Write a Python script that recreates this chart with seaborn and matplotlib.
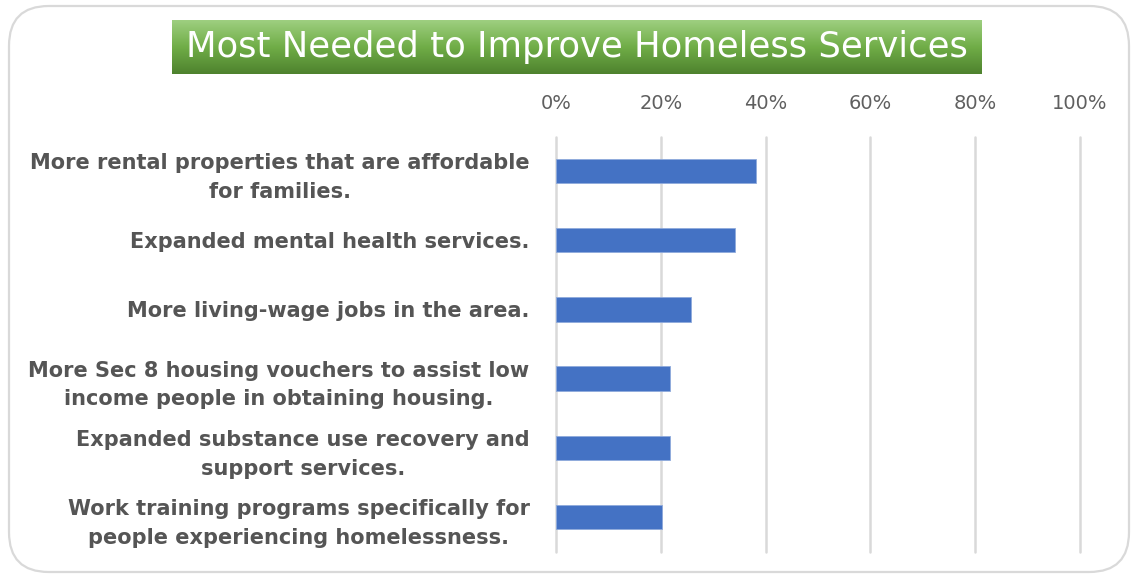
import numpy as np
import pandas as pd
import matplotlib
matplotlib.use("Agg")
import matplotlib.pyplot as plt
from matplotlib.patches import FancyBboxPatch
from matplotlib.ticker import FuncFormatter
import seaborn as sns

# Survey responses (share of respondents)
categories = [
    "More rental properties that are affordable\nfor families.",
    "Expanded mental health services.",
    "More living-wage jobs in the area.",
    "More Sec 8 housing vouchers to assist low\nincome people in obtaining housing.",
    "Expanded substance use recovery and\nsupport services.",
    "Work training programs specifically for\npeople experiencing homelessness.",
]
shares = [38.2, 34.1, 25.8, 21.7, 21.7, 20.3]
x_ticks = [0, 20, 40, 60, 80, 100]
title = "Most Needed to Improve Homeless Services"

df = pd.DataFrame({"need": categories, "share": shares})

sns.set_theme(style="white")
plt.rcParams["font.family"] = ["DejaVu Sans"]

W, H = 1138, 578
fig = plt.figure(figsize=(W / 100, H / 100), dpi=100)
fig.patch.set_facecolor("white")

# Rounded outer frame
frame = FancyBboxPatch((9 / W, 6 / H), (W - 18) / W, (H - 12) / H,
                       boxstyle="round,pad=0,rounding_size=0.035",
                       transform=fig.transFigure, facecolor="none",
                       edgecolor="#d9d9d9", linewidth=1.6, zorder=-5,
                       mutation_aspect=W / H)
fig.patches.append(frame)

ax = fig.add_axes([556 / W, 1 - 551.5 / H, 524 / W, 415 / H])
ax.set_facecolor("none")

sns.barplot(data=df, y="need", x="share", orient="h", width=0.35,
            color="#4472C4", saturation=1, edgecolor="#8faadc",
            linewidth=0.6, ax=ax, zorder=3)

ax.set_xlim(0, 100)
ax.set_ylim(len(categories) - 0.5, -0.5)
ax.set_xticks(x_ticks)
ax.xaxis.set_major_formatter(FuncFormatter(lambda v, p: f"{v:.0f}%"))
ax.xaxis.tick_top()
ax.tick_params(axis="x", length=0, pad=17, labelsize=14, labelcolor="#5f5f5f")
ax.tick_params(axis="y", length=0, pad=19)
for lab in ax.get_yticklabels():
    lab.set_fontsize(15)
    lab.set_fontweight("bold")
    lab.set_color("#555555")
    lab.set_multialignment("center")
    lab.set_linespacing(1.55)
ax.set_xlabel("")
ax.set_ylabel("")
for s in ax.spines.values():
    s.set_visible(False)
for xv in x_ticks:
    ax.axvline(xv, color="#d9d9d9", linewidth=1.8, zorder=1, clip_on=False)

# Title banner with vertical green gradient
tax = fig.add_axes([172 / W, 1 - 74 / H, 810 / W, 54 / H])
top = np.array([158, 207, 128]) / 255
mid = np.array([112, 173, 71]) / 255
bot = np.array([78, 130, 46]) / 255
t = np.linspace(0, 1, 100)[:, None]
grad = np.where(t < 0.5, top + (mid - top) * (t / 0.5), mid + (bot - mid) * ((t - 0.5) / 0.5))
tax.imshow(grad[:, None, :].repeat(2, axis=1), aspect="auto", extent=[0, 1, 0, 1],
           origin="upper")
tax.set_xlim(0, 1)
tax.set_ylim(0, 1)
tax.axis("off")
tax.text(0.5, 0.5, title, ha="center", va="center", color="white",
         fontsize=25.5, family="DejaVu Sans")

fig.savefig("out.png", dpi=100, facecolor="white")
